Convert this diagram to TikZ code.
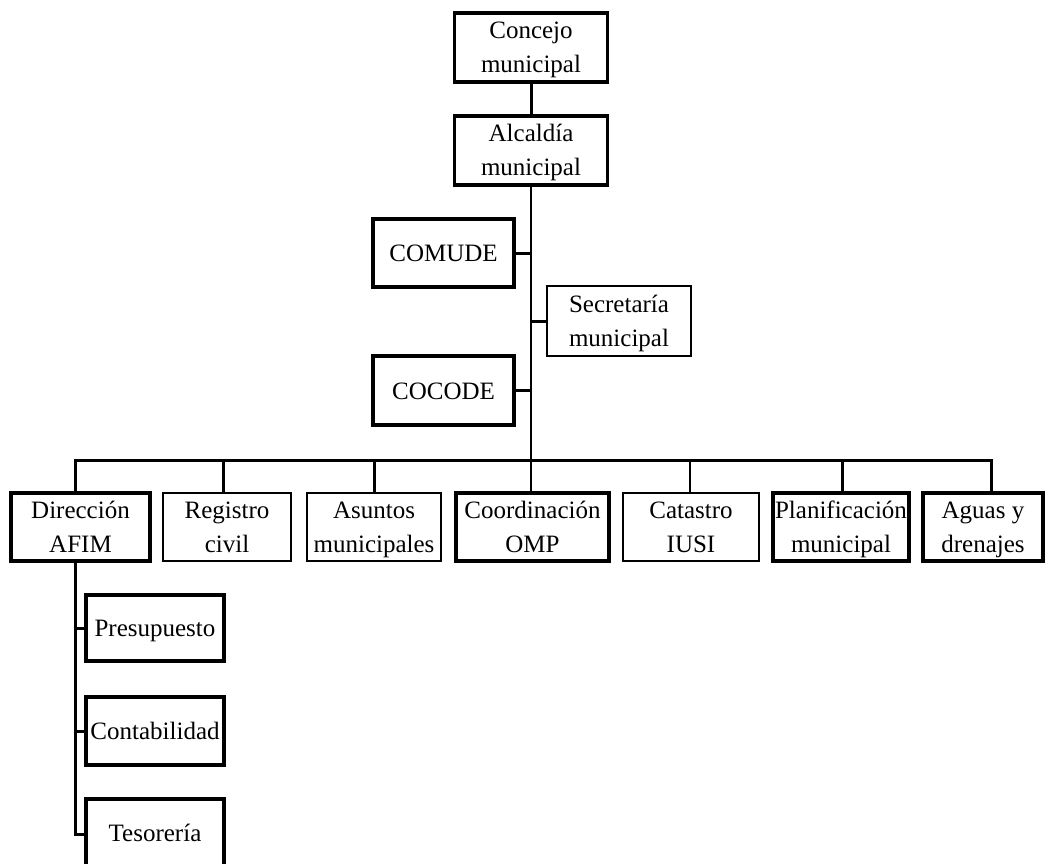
\documentclass[tikz,border=0pt]{standalone}
\usepackage{fontspec}
\setmainfont{Liberation Serif}
\newcommand{\twol}[2]{\rule{0pt}{22pt}#1\\#2\rule[-5pt]{0pt}{5pt}}
\begin{document}
\begin{tikzpicture}[x=1pt,y=-1pt,
  box/.style={draw,line width=3.4pt,rectangle,inner sep=0pt,align=center,
    font=\fontsize{25}{34}\selectfont},
  thinbox/.style={box,line width=2.4pt},
  oneline/.style={text height=17pt,text depth=0pt},
  conn/.style={line width=3pt},
  thinconn/.style={line width=2.3pt}]
\clip (0,0) rectangle (1046,864);
\fill[white] (0,0) rectangle (1046,864);
% top
\node[box,minimum width=153pt,minimum height=69pt] (concejo) at (531,47.5) {\twol{Concejo}{municipal}};
\node[box,minimum width=153pt,minimum height=69pt] (alcaldia) at (531,150.5) {\twol{Alcaldía}{municipal}};
\node[box,oneline,minimum width=141pt,minimum height=68pt] (comude) at (443.5,253) {COMUDE};
\node[thinbox,minimum width=144pt,minimum height=70pt] (secre) at (619,321) {\twol{Secretaría}{municipal}};
\node[box,oneline,minimum width=141pt,minimum height=69pt] (cocode) at (443.5,390.5) {COCODE};
% bottom row
\node[box,minimum width=139pt,minimum height=68pt] (dir) at (80.5,527) {\twol{Dirección}{AFIM}};
\node[thinbox,minimum width=128pt,minimum height=68pt] (reg) at (227,527) {\twol{Registro}{civil}};
\node[thinbox,minimum width=134pt,minimum height=68pt] (asu) at (374,527) {\twol{Asuntos}{municipales}};
\node[box,minimum width=153pt,minimum height=68pt] (coord) at (532.5,527) {\twol{Coordinación}{OMP}};
\node[thinbox,minimum width=136pt,minimum height=68pt] (cat) at (691,527) {\twol{Catastro}{IUSI}};
\node[box,minimum width=136pt,minimum height=68pt] (plan) at (841,527) {\twol{Planificación}{municipal}};
\node[box,minimum width=120pt,minimum height=68pt] (agua) at (983,527) {\twol{Aguas y}{drenajes}};
% sub boxes
\node[box,oneline,minimum width=138pt,minimum height=66pt] (pres) at (155,628) {Presupuesto};
\node[box,oneline,minimum width=138pt,minimum height=68pt] (conta) at (155,731) {Contabilidad};
\node[box,oneline,minimum width=138pt,minimum height=68pt] (teso) at (155,833) {Tesorería};
% coordinates
\coordinate (bus) at (531,460);
\coordinate (dirdrop) at (75,460);
\coordinate (aguadrop) at (991,460);
\coordinate (spineend) at (75,834);
% connectors
\draw[conn] (concejo) -- (alcaldia);
\draw[thinconn] (alcaldia.south) -- (bus);
\draw[conn] (comude.east) -- (comude.east -| bus);
\draw[conn] (secre.west) -- (secre.west -| bus);
\draw[conn] (cocode.east) -- (cocode.east -| bus);
\draw[conn,line cap=rect] (dirdrop) -- (aguadrop);
\draw[conn] (dirdrop) -- (dirdrop |- dir.north);
\draw[conn] (reg.north -| 223,0) -- (223,460);
\draw[conn] (asu.north) -- (asu.north |- bus);
\draw[thinconn] (coord.north -| bus) -- (bus);
\draw[thinconn] (cat.north -| 690,0) -- (690,460);
\draw[conn] (plan.north -| 842,0) -- (842,460);
\draw[conn] (aguadrop) -- (aguadrop |- agua.north);
% sub-branch
\draw[conn] (dir.south -| spineend) -- (spineend) -- (teso.west |- spineend);
\draw[conn] (pres.west) -- (pres.west -| spineend);
\draw[conn] (conta.west) -- (conta.west -| spineend);
\end{tikzpicture}
\end{document}
